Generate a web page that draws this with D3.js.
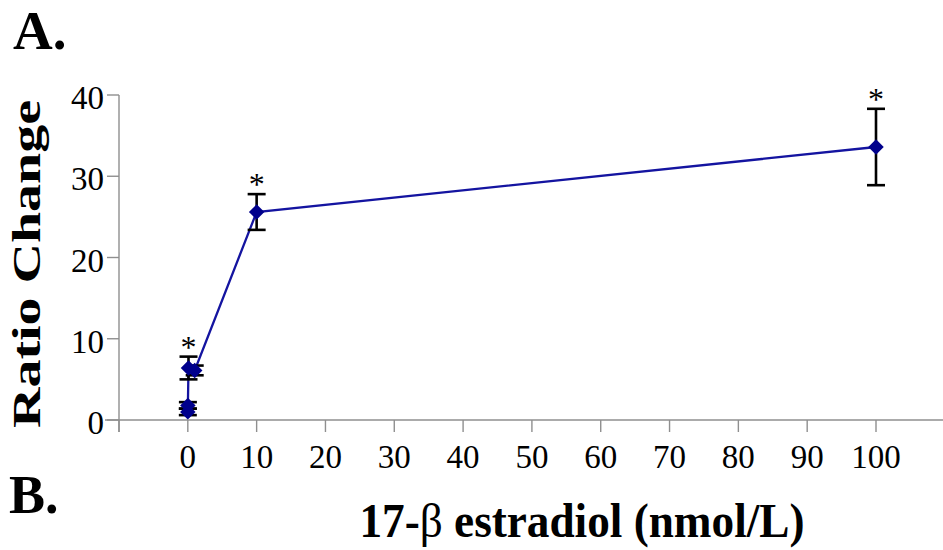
<!DOCTYPE html>
<html>
<head>
<meta charset="utf-8">
<script src="https://cdn.jsdelivr.net/npm/d3@7"></script>
<style>
  html, body { margin: 0; padding: 0; background: #fff; }
  svg { display: block; font-family: "Liberation Serif", "DejaVu Serif", serif; }
</style>
</head>
<body>
<svg width="943" height="550"></svg>
<script>
// estradiol dose (nmol/L) and mean ratio change with its error
const conc = [0, 0.01, 0.1, 1, 10, 100];
const ratio = [1.0, 1.8, 6.4, 6.1, 25.6, 33.6];
const err = [0.4, 0.4, 1.4, 0.6, 2.2, 4.7];
const starred = [false, false, true, false, true, true];

const xTicks = [-10, 0, 10, 20, 30, 40, 50, 60, 70, 80, 90, 100];
const yTicks = [0, 10, 20, 30, 40];

const svg = d3.select("svg");
const width = +svg.attr("width");

const x = d3.scaleLinear().domain([-10, 100]).range([119, 876]);
const y = d3.scaleLinear().domain([0, 40]).range([420, 95]);

const points = conc.map((c, i) => ({ c, v: ratio[i], e: err[i], star: starred[i] }));

const axisColor = "#8f8f8f";

// y axis
svg.append("line")
  .attr("x1", x(-10)).attr("x2", x(-10))
  .attr("y1", y(40)).attr("y2", y(0) + 12)
  .attr("stroke", axisColor).attr("stroke-width", 1.4);

svg.append("g").selectAll("line")
  .data(yTicks)
  .enter().append("line")
  .attr("x1", x(-10) - 12).attr("x2", x(-10))
  .attr("y1", d => y(d)).attr("y2", d => y(d))
  .attr("stroke", axisColor).attr("stroke-width", 1.4);

svg.append("g").selectAll("text")
  .data(yTicks)
  .enter().append("text")
  .attr("x", x(-10) - 15)
  .attr("y", d => y(d) + 14)
  .attr("text-anchor", "end")
  .attr("font-size", 33)
  .text(d => d);

// x axis
svg.append("line")
  .attr("x1", x(-10) - 14).attr("x2", width)
  .attr("y1", y(0)).attr("y2", y(0))
  .attr("stroke", axisColor).attr("stroke-width", 1.4);

svg.append("g").selectAll("line")
  .data(xTicks)
  .enter().append("line")
  .attr("x1", d => x(d)).attr("x2", d => x(d))
  .attr("y1", y(0)).attr("y2", y(0) + 12)
  .attr("stroke", axisColor).attr("stroke-width", 1.4);

svg.append("g").selectAll("text")
  .data(xTicks.filter(d => d >= 0))
  .enter().append("text")
  .attr("x", d => x(d))
  .attr("y", y(0) + 48)
  .attr("text-anchor", "middle")
  .attr("font-size", 33)
  .text(d => d);

// data line
const line = d3.line()
  .x(d => x(d.c))
  .y(d => y(d.v));

svg.append("path")
  .datum(points)
  .attr("d", line)
  .attr("fill", "none")
  .attr("stroke", "#1414a0")
  .attr("stroke-width", 2.3);

// error bars
const bars = svg.append("g")
  .attr("stroke", "#000")
  .attr("stroke-width", 2.6);

bars.selectAll(".stem")
  .data(points)
  .enter().append("line")
  .attr("x1", d => x(d.c)).attr("x2", d => x(d.c))
  .attr("y1", d => y(d.v + d.e)).attr("y2", d => y(d.v - d.e));

bars.selectAll(".capTop")
  .data(points)
  .enter().append("line")
  .attr("x1", d => x(d.c) - 9).attr("x2", d => x(d.c) + 9)
  .attr("y1", d => y(d.v + d.e)).attr("y2", d => y(d.v + d.e));

bars.selectAll(".capBottom")
  .data(points)
  .enter().append("line")
  .attr("x1", d => x(d.c) - 9).attr("x2", d => x(d.c) + 9)
  .attr("y1", d => y(d.v - d.e)).attr("y2", d => y(d.v - d.e));

// diamond markers
const diamond = d3.symbol(d3.symbolSquare, 120);
svg.append("g").selectAll("path")
  .data(points)
  .enter().append("path")
  .attr("d", diamond)
  .attr("transform", d => `translate(${x(d.c)},${y(d.v)}) rotate(45)`)
  .attr("fill", "#00008c");

// significance stars
svg.append("g").selectAll("text")
  .data(points.filter(d => d.star))
  .enter().append("text")
  .attr("x", d => x(d.c))
  .attr("y", d => y(d.v + d.e) + 1)
  .attr("text-anchor", "middle")
  .attr("font-size", 32)
  .text("*");

// axis titles
svg.append("text")
  .attr("transform", "translate(40,264) rotate(-90)")
  .attr("text-anchor", "middle")
  .attr("font-size", 41)
  .attr("font-weight", "bold")
  .attr("textLength", 328)
  .attr("lengthAdjust", "spacingAndGlyphs")
  .text("Ratio Change");

const xTitle = svg.append("text")
  .attr("x", 582)
  .attr("y", 537)
  .attr("text-anchor", "middle")
  .attr("font-size", 48)
  .attr("font-weight", "bold")
  .attr("textLength", 445)
  .attr("lengthAdjust", "spacingAndGlyphs");
xTitle.append("tspan").text("17-");
xTitle.append("tspan").attr("font-weight", "normal").text("β");
xTitle.append("tspan").text(" estradiol (nmol/L)");

// panel letters
svg.append("text")
  .attr("x", 13).attr("y", 49)
  .attr("font-size", 55)
  .attr("font-weight", "bold")
  .text("A.");

svg.append("text")
  .attr("x", 9).attr("y", 513)
  .attr("font-size", 54)
  .attr("font-weight", "bold")
  .text("B.");
</script>
</body>
</html>
